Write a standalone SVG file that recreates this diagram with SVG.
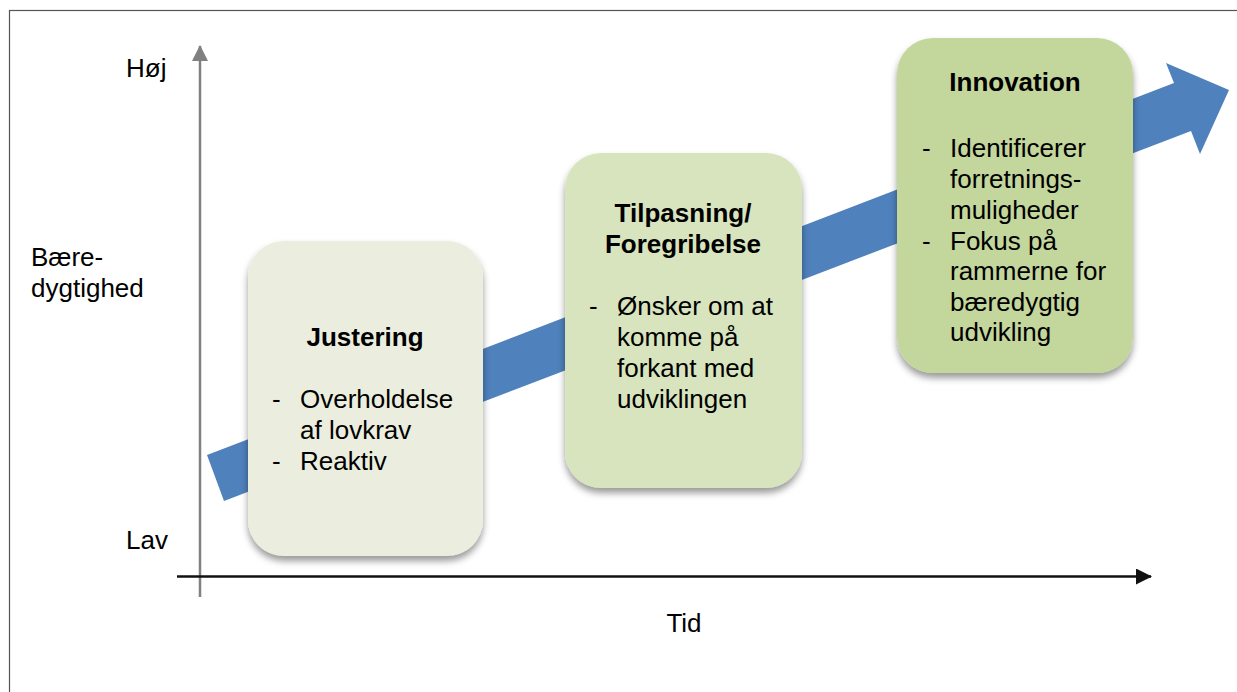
<svg xmlns="http://www.w3.org/2000/svg" width="1237" height="692" viewBox="0 0 1237 692">
  <defs>
    <filter id="shadow" x="-20%" y="-20%" width="140%" height="140%">
      <feDropShadow dx="0" dy="5" stdDeviation="3.5" flood-color="#000" flood-opacity="0.4"/>
    </filter>
    <marker id="arrGray" markerWidth="16" markerHeight="16" refX="15" refY="8" orient="auto" markerUnits="userSpaceOnUse">
      <path d="M0,0 L16,8 L0,16 Z" fill="#808080"/>
    </marker>
    <marker id="arrBlack" markerWidth="16" markerHeight="16" refX="15" refY="8" orient="auto" markerUnits="userSpaceOnUse">
      <path d="M0,0 L16,8 L0,16 Z" fill="#111"/>
    </marker>
  </defs>
  <style>
    text { font-family: "Liberation Sans", Arial, sans-serif; font-size: 26px; fill: #000; }
    .title { font-weight: bold; text-anchor: middle; }
    .box { filter: url(#shadow); }
  </style>
  <rect x="0" y="0" width="1237" height="692" fill="#fff"/>
  <rect x="9.5" y="10.5" width="1400" height="900" fill="none" stroke="#555" stroke-width="1.2"/>

  <g id="connectors">
    <line x1="200" y1="597" x2="200" y2="46" stroke="#808080" stroke-width="2.5" marker-end="url(#arrGray)"/>
    <line x1="177" y1="576.5" x2="1151" y2="576.5" stroke="#111" stroke-width="2.5" marker-end="url(#arrBlack)"/>
    <polygon id="trend-arrow" points="207,455 1174,83 1166,63 1229,90 1200,154 1191,131 224,501" fill="#4F81BD"/>
  </g>

  <g id="axis-labels">
    <text x="126" y="77">Høj</text>
    <text x="31" y="266">Bære-</text>
    <text x="31" y="297">dygtighed</text>
    <text x="126" y="549">Lav</text>
    <text x="684" y="632" text-anchor="middle">Tid</text>
  </g>

  <g id="node-justering">
    <rect class="box" x="248" y="241" width="235" height="315" rx="36" fill="#EBEEDE"/>
    <text class="title" x="365" y="346">Justering</text>
    <text x="272" y="408">-</text>
    <text x="300" y="408">Overholdelse</text>
    <text x="300" y="439">af lovkrav</text>
    <text x="272" y="470">-</text>
    <text x="300" y="470">Reaktiv</text>
  </g>

  <g id="node-tilpasning">
    <rect class="box" x="565" y="153" width="237" height="335" rx="36" fill="#D7E4BD"/>
    <text class="title" x="683" y="222">Tilpasning/</text>
    <text class="title" x="683" y="253">Foregribelse</text>
    <text x="589" y="315">-</text>
    <text x="617" y="315">Ønsker om at</text>
    <text x="617" y="346">komme på</text>
    <text x="617" y="377">forkant med</text>
    <text x="617" y="408">udviklingen</text>
  </g>

  <g id="node-innovation">
    <rect class="box" x="897" y="38" width="236" height="335" rx="36" fill="#C3D69B"/>
    <text class="title" x="1015" y="91">Innovation</text>
    <text x="922" y="157">-</text>
    <text x="950" y="157">Identificerer</text>
    <text x="950" y="188">forretnings-</text>
    <text x="950" y="219">muligheder</text>
    <text x="922" y="250">-</text>
    <text x="950" y="250">Fokus på</text>
    <text x="950" y="280">rammerne for</text>
    <text x="950" y="311">bæredygtig</text>
    <text x="950" y="341">udvikling</text>
  </g>
</svg>
